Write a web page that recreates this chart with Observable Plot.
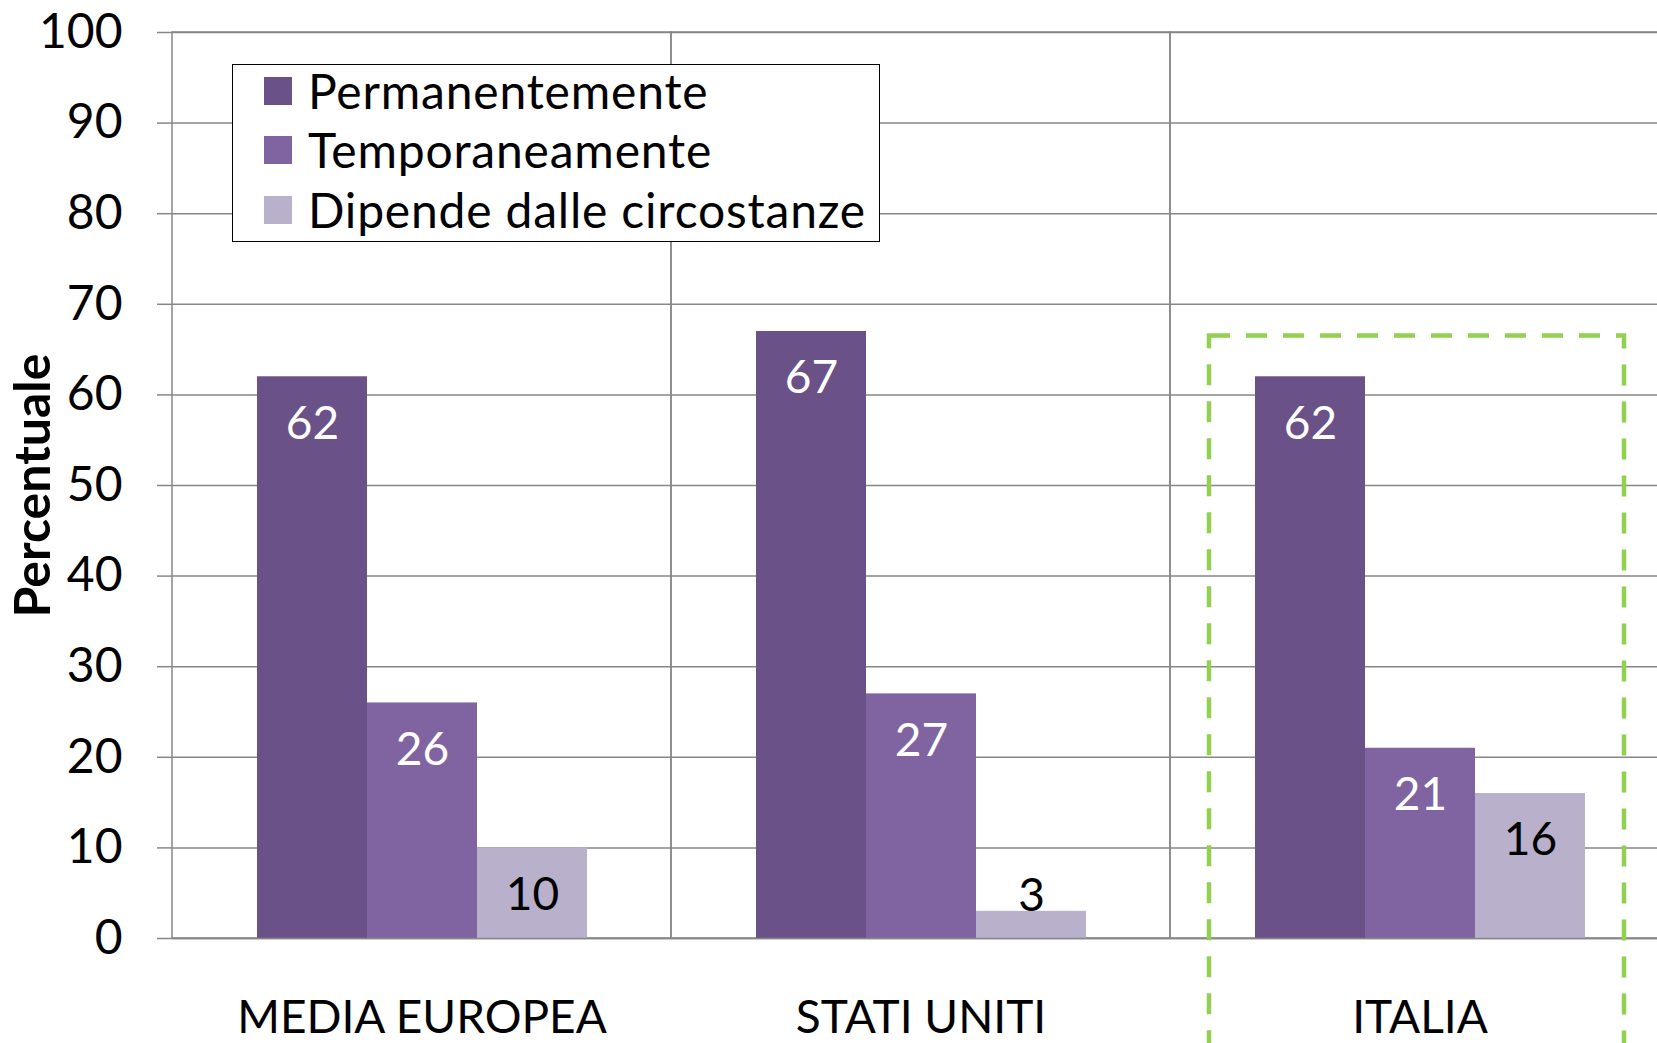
<!DOCTYPE html>
<html>
<head>
<meta charset="utf-8">
<script src="https://cdn.jsdelivr.net/npm/d3@7"></script>
<script src="https://cdn.jsdelivr.net/npm/@observablehq/plot@0.6"></script>
<style>
  html, body { margin: 0; padding: 0; background: #fff; overflow: hidden; }
  #wrap { position: relative; width: 1657px; height: 1043px; font-family: Lato, sans-serif; }
  #legend { position: absolute; left: 232px; top: 64px; width: 648px; height: 178px;
            border: 1.5px solid #000; background: #fff; box-sizing: border-box; }
  .row { position: absolute; left: 31px; height: 30px; display: flex; align-items: center; }
  .sw { width: 28px; height: 28px; margin-right: 16px; flex: none; }
  .lab { font-size: 48px; letter-spacing: 0.8px; color: #000; white-space: nowrap; line-height: 1; }
</style>
</head>
<body>
<div id="wrap"><div id="legend"></div></div>
<script>
const categories = ["MEDIA EUROPEA", "STATI UNITI", "ITALIA"];
const series = ["Permanentemente", "Temporaneamente", "Dipende dalle circostanze"];
const permanentemente = [62, 67, 62];
const temporaneamente = [26, 27, 21];
const dipende = [10, 3, 16];
const seriesColors = ["#6a5187", "#8064a2", "#b9b0cb"];
const yTicks = [0, 10, 20, 30, 40, 50, 60, 70, 80, 90, 100];
const highlight = [{category: "ITALIA", top: 66.5, bottom: -15}];
const yTitle = "Percentuale";

const seriesValues = [permanentemente, temporaneamente, dipende];
const data = categories.flatMap((c, i) =>
  series.map((s, j) => ({category: c, series: s, value: seriesValues[j][i]})));

const gridColor = "#878787";
const inside = d => d.value >= 8;

const chart = Plot.plot({
  width: 1657,
  height: 1043,
  marginLeft: 171,
  marginRight: -13,
  marginTop: 32,
  marginBottom: 105,
  style: {fontFamily: "Lato, sans-serif", background: "white", color: "black"},
  fx: {domain: categories, padding: 0, axis: null},
  x: {domain: series, paddingInner: 0, paddingOuter: 0.748, axis: null},
  y: {domain: [0, 100], axis: null},
  color: {domain: series, range: seriesColors},
  marks: [
    Plot.gridY(yTicks, {stroke: gridColor, strokeOpacity: 1, strokeWidth: 1.5}),
    Plot.rect(categories, {fx: d => d, y1: 0, y2: 100, fill: "none", stroke: gridColor, strokeWidth: 1.5}),
    Plot.barY(data, {fx: "category", x: "series", y: "value", fill: "series"}),
    Plot.ruleY([0], {stroke: gridColor, strokeWidth: 1.5}),
    Plot.axisY(yTicks, {anchor: "left", tickSize: 15, tickPadding: 35, fontSize: 48,
      stroke: gridColor, strokeWidth: 1.5, color: "black", label: null, tickFormat: d => String(d)}),
    Plot.text(data.filter(d => inside(d) && d.series !== series[2]),
      {fx: "category", x: "series", y: "value", text: d => String(d.value), dy: 47, fill: "white", fontSize: 46}),
    Plot.text(data.filter(d => inside(d) && d.series === series[2]),
      {fx: "category", x: "series", y: "value", text: d => String(d.value), dy: 47, fill: "black", fontSize: 46}),
    Plot.text(data.filter(d => !inside(d)),
      {fx: "category", x: "series", y: "value", text: d => String(d.value), dy: -15, fill: "black", fontSize: 46}),
    Plot.text(categories, {fx: d => d, text: d => d, frameAnchor: "bottom", dy: 94, fontSize: 46, fill: "black"}),
    Plot.text([yTitle], {fx: () => categories[0], text: d => d, frameAnchor: "left", textAnchor: "middle",
      rotate: -90, dx: -139, fontSize: 50, fontWeight: "bold", fill: "black"}),
    Plot.rect(highlight, {fx: "category", y1: "top", y2: "bottom", fill: "none", stroke: "#92d050",
      strokeWidth: 4.5, strokeDasharray: "21,16", insetLeft: 39, insetRight: 45})
  ]
});

const wrap = document.getElementById("wrap");
wrap.insertBefore(chart, wrap.firstChild);

const colorScale = chart.scale("color");
const legend = document.getElementById("legend");
const rowTops = [11, 70, 130];
series.forEach((s, i) => {
  const row = document.createElement("div");
  row.className = "row";
  row.style.top = rowTops[i] + "px";
  const sw = document.createElement("div");
  sw.className = "sw";
  sw.style.background = colorScale.apply(s);
  const lab = document.createElement("span");
  lab.className = "lab";
  lab.textContent = s;
  row.appendChild(sw);
  row.appendChild(lab);
  legend.appendChild(row);
});
</script>
</body>
</html>
